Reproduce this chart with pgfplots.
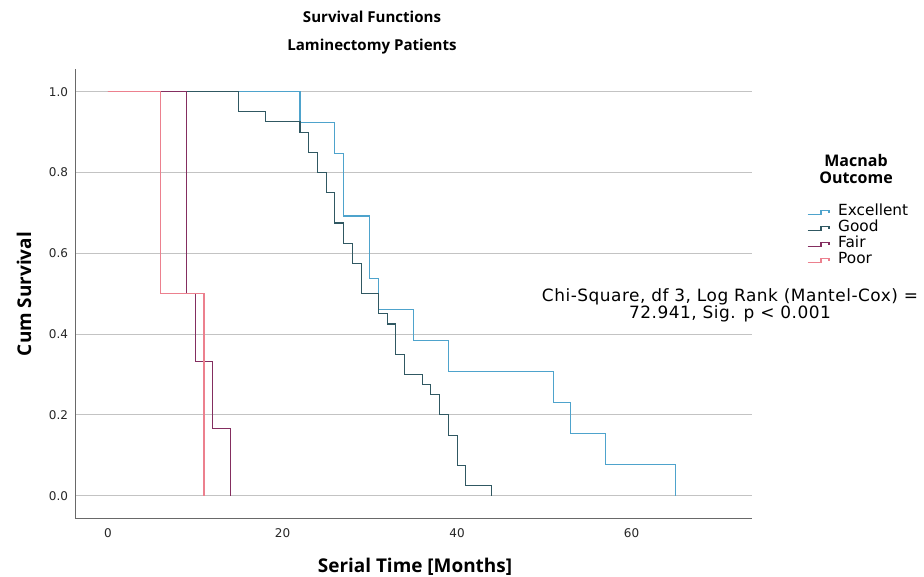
\documentclass[border=0pt]{standalone}
\usepackage{pgfplots}
\pgfplotsset{compat=1.18}
\usepackage{fontspec}
\setmainfont{DejaVu Sans}
\newfontfamily\titlefont{Open Sans}
\newfontfamily\annfont[LetterSpace=3]{DejaVu Sans}

\definecolor{cExc}{RGB}{78,163,204}
\definecolor{cGood}{RGB}{48,88,98}
\definecolor{cFair}{RGB}{132,46,96}
\definecolor{cPoor}{RGB}{236,128,142}
\definecolor{gridc}{RGB}{195,195,195}
\definecolor{axc}{RGB}{105,105,105}

\begin{document}
\begin{tikzpicture}
\path[use as bounding box] (0pt,0pt) rectangle (693pt,432pt);
\begin{axis}[
    at={(56.25pt,43.5pt)}, anchor=south west,
    scale only axis,
    width=507.75pt, height=336.75pt,
    xmin=-3.78, xmax=73.8,
    ymin=-0.055, ymax=1.056,
    axis x line*=bottom, axis y line*=left,
    axis line style={axc, line width=0.75pt},
    xtick={0,20,40,60},
    ytick={0,0.2,0.4,0.6,0.8,1.0},
    major tick length=0pt,
    ymajorgrids,
    grid style={gridc, line width=0.75pt},
    /pgf/number format/assume math mode=true,
    ticklabel style={font=\fontsize{9}{10}\selectfont, text=black!85},
    xticklabel style={anchor=center, yshift=-11.25pt},
    yticklabel style={anchor=east, inner sep=0pt, xshift=-5pt,
        /pgf/number format/fixed, /pgf/number format/fixed zerofill,
        /pgf/number format/precision=1},
    every axis plot/.append style={line width=0.8pt},
    legend cell align=left,
    legend image code/.code={\draw[#1] (0pt,-1.5pt) -- (10pt,-1.5pt) -- (10pt,1.5pt) -- (16pt,1.5pt) -- (16pt,-0.5pt); \path (20.5pt,0pt);},
    legend style={at={(1.081,0.699)}, anchor=north west, draw=none, fill=none,
        inner sep=0pt, row sep=0pt,
        font=\fontsize{11.5}{12}\selectfont,
        nodes={inner ysep=0pt, inner xsep=2pt, text height=8.5pt, text depth=3.5pt}},
]
\addplot[cExc, const plot] coordinates {
(0,1) (22,0.9231) (26,0.8462) (27,0.6923) (30,0.5385) (31,0.4615)
(35,0.3846) (39,0.3077) (51,0.2308) (53,0.1538) (57,0.0769) (65,0)
};
\addlegendentry{Excellent}
\addplot[cGood, const plot] coordinates {
(0,1) (15,0.95) (18,0.925) (22,0.9) (23,0.85) (24,0.8) (25,0.75)
(26,0.675) (27,0.625) (28,0.575) (29,0.5) (31,0.45) (32,0.425)
(33,0.35) (34,0.3) (36,0.275) (37,0.25) (38,0.2) (39,0.15)
(40,0.075) (41,0.025) (44,0)
};
\addlegendentry{Good}
\addplot[cFair, const plot] coordinates {
(0,1) (9,0.5) (10,0.3333) (12,0.1667) (14,0)
};
\addlegendentry{Fair}
\addplot[cPoor, const plot] coordinates {
(0,1) (6,0.5) (11,0)
};
\addlegendentry{Poor}
\end{axis}
\begin{scope}[x=0.75pt,y=0.75pt]
\node[font=\titlefont\bfseries\fontsize{11.3}{12}\selectfont] at (372,559) {Survival Functions};
\node[font=\titlefont\bfseries\fontsize{11.3}{12}\selectfont] at (372,529) {Laminectomy Patients};
\node[font=\titlefont\bfseries\fontsize{14.2}{16}\selectfont] at (415,9) {Serial Time [Months]};
\node[font=\titlefont\bfseries\fontsize{14.2}{16}\selectfont, rotate=90] at (24,282) {Cum Survival};
\node[font=\titlefont\bfseries\fontsize{12}{13}\selectfont, align=center] at (856,407) {Macnab\\Outcome};
\node[font=\annfont\fontsize{12.7}{12.8}\selectfont, align=center] at (730,271) {Chi-Square, df 3, Log Rank (Mantel-Cox) =\\72.941, Sig. p < 0.001};
\end{scope}
\end{tikzpicture}
\end{document}
